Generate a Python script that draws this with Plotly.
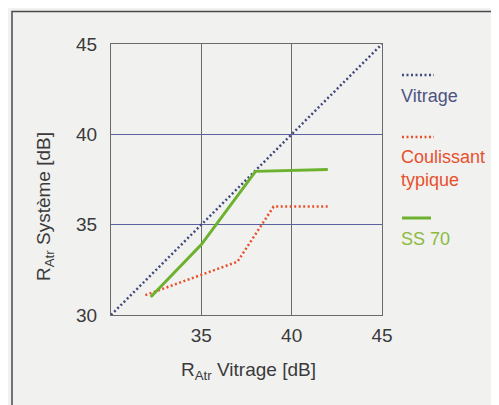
import plotly.graph_objects as go

vitrage_x = [30, 45]
vitrage_y = [30, 45]
coulissant_x = [31.9, 37, 39, 42.1]
coulissant_y = [31.1, 32.95, 36, 36]
ss70_x = [32.2, 35, 38, 42]
ss70_y = [31.0, 33.9, 37.95, 38.05]
x_tick_vals = [35, 40, 45]
y_tick_vals = [30, 35, 40, 45]

navy = "#414a7e"
red = "#e8502c"
green = "#6db22e"
txt = "#3a3a3a"
FONT = "Liberation Sans, Arial, sans-serif"

fig = go.Figure()
fig.add_trace(go.Scatter(x=vitrage_x, y=vitrage_y, mode="lines",
                         line=dict(color=navy, width=2.5, dash="2px,2.5px"), name="Vitrage"))
fig.add_trace(go.Scatter(x=coulissant_x, y=coulissant_y, mode="lines",
                         line=dict(color=red, width=2.5, dash="2px,2.5px"), name="Coulissant typique"))
fig.add_trace(go.Scatter(x=ss70_x, y=ss70_y, mode="lines",
                         line=dict(color=green, width=3), name="SS 70"))

axis_common = dict(range=[30, 45],
                   showgrid=True, gridwidth=1,
                   showline=True, linecolor="#6a6a6a", linewidth=1, mirror=True,
                   zeroline=False, ticks="", tickfont=dict(size=19, color=txt, family=FONT),
                   fixedrange=True)

fig.update_xaxes(**axis_common, tickvals=x_tick_vals, ticklabelstandoff=3, gridcolor="#6a6a6a")
fig.update_yaxes(**axis_common, tickvals=y_tick_vals, ticklabelstandoff=9, gridcolor="#5a62a0")

# page body adds an 8px offset; work in screen pixels and convert
OFF = 8
W, H = 499, 405
L, T = 111 - OFF, 44 - OFF
pw, ph = 271, 271
R = W - L - pw
B = H - T - ph

def px(x):
    return (x - OFF - L) / pw

def py(y):
    return (T + ph - (y - OFF)) / ph

annotations = [
    dict(text="R<sub>Atr</sub> Système [dB]", x=px(45), y=py(207), textangle=-90,
         xanchor="center", font=dict(size=19, color=txt, family=FONT)),
    dict(text="R<sub>Atr</sub> Vitrage [dB]", x=px(248), y=py(371),
         xanchor="center", font=dict(size=19, color=txt, family=FONT)),
    dict(text="Vitrage", x=px(399), y=py(96), xanchor="left",
         font=dict(size=18, color="#4e5480", family=FONT)),
    dict(text="Coulissant<br>typique", x=px(399), y=py(168), xanchor="left", align="left",
         font=dict(size=18, color=red, family=FONT)),
    dict(text="SS 70", x=px(399), y=py(239), xanchor="left",
         font=dict(size=18, color="#8cba3f", family=FONT)),
]
for a in annotations:
    a.update(xref="paper", yref="paper", showarrow=False, yanchor="middle")

shapes = [
    dict(type="rect", x0=px(12), x1=px(560), y0=py(11.5), y1=py(460),
         line=dict(color="#4a4a4a", width=1.5)),
    dict(type="line", x0=px(402), x1=px(434), y0=py(75), y1=py(75),
         line=dict(color=navy, width=2.5, dash="2px,2.5px")),
    dict(type="line", x0=px(402), x1=px(434), y0=py(137), y1=py(137),
         line=dict(color=red, width=2.5, dash="2px,2.5px")),
    dict(type="line", x0=px(402), x1=px(431), y0=py(218), y1=py(218),
         line=dict(color=green, width=3)),
]
for s in shapes:
    s.update(xref="paper", yref="paper")

fig.update_layout(width=W, height=H, margin=dict(l=L, r=R, t=T, b=B),
                  paper_bgcolor="#f1f1f0", plot_bgcolor="#f1f1f0",
                  showlegend=False, annotations=annotations, shapes=shapes,
                  font=dict(family=FONT, color=txt))

fig.write_html("out.html", config={"displayModeBar": False})
